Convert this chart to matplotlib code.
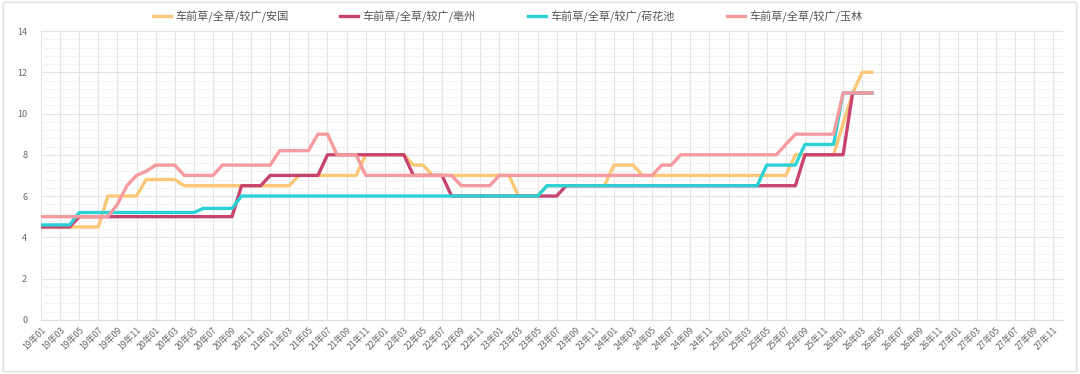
import numpy as np
import matplotlib
matplotlib.use('Agg')
import matplotlib.pyplot as plt
from matplotlib.patches import FancyBboxPatch

plt.rcParams['font.family'] = ['Noto Sans CJK SC', 'DejaVu Sans']

# 19年01 .. 27年12
months = [f"{y:02d}年{m:02d}" for y in range(19, 28) for m in range(1, 13)]

names = ['车前草/全草/较广/安国', '车前草/全草/较广/亳州',
         '车前草/全草/较广/荷花池', '车前草/全草/较广/玉林']
colors = ['#fbc878', '#c9436f', '#2bd1d4', '#f59a9e']

# monthly prices, 19年01 .. 26年04
anguo = [4.5] * 7 + [6.0] * 4 + [6.8] * 4 + [6.5] * 12 + [7.0] * 7 + [8.0] * 5 \
    + [7.5] * 2 + [7.0] * 9 + [6.0] * 3 + [6.5] * 7 + [7.5] * 3 + [7.0] * 16 \
    + [8.0] * 5 + [9.5, 11.0, 12.0, 12.0]
bozhou = [4.5] * 4 + [5.0] * 17 + [6.5] * 3 + [7.0] * 6 + [8.0] * 9 + [7.0] * 4 \
    + [6.0] * 12 + [6.5] * 25 + [8.0] * 5 + [11.0] * 3
hehuachi = [4.6] * 4 + [5.2] * 13 + [5.4] * 4 + [6.0] * 32 + [6.5] * 23 \
    + [7.5] * 4 + [8.5] * 4 + [11.0] * 4
yulin = [5.0] * 8 + [5.6, 6.5, 7.0, 7.2] + [7.5] * 3 + [7.0] * 4 + [7.5] * 6 \
    + [8.2] * 4 + [9.0] * 2 + [8.0] * 3 + [7.0] * 10 + [6.5] * 4 + [7.0] * 17 \
    + [7.5] * 2 + [8.0] * 11 + [8.5] + [9.0] * 5 + [11.0] * 4
series = [anguo, bozhou, hehuachi, yulin]

fig = plt.figure(figsize=(10.8, 3.74), dpi=100)
fig.patches.append(FancyBboxPatch((0.003, 0.006), 0.994, 0.988,
                                  boxstyle='round,pad=0,rounding_size=0.004',
                                  transform=fig.transFigure, fc='white',
                                  ec='#e3e3e3', lw=1.2, zorder=-5))
ax = fig.add_axes([0.038, 0.145, 0.946, 0.772])
ax.set_facecolor('none')

x = np.arange(len(months))
for vals, name, c in zip(series, names, colors):
    ax.plot(x[:len(vals)], vals, color=c, lw=2.4, label=name,
            solid_joinstyle='round', zorder=3)

ax.set_xlim(0, len(months) - 1)
ax.set_ylim(0, 14)
ax.set_yticks(np.arange(0, 15, 2))
ax.set_yticks(np.arange(0, 14.01, 0.4), minor=True)
ax.set_xticks(x[::2])
ax.set_xticklabels(months[::2], rotation=45, ha='right', va='top',
                   rotation_mode='anchor', fontsize=6.3, color='#666666')
ax.tick_params(axis='x', length=0, pad=4)
ax.tick_params(axis='y', which='both', length=0, labelsize=6.5,
               labelcolor='#666666', pad=10)
ax.grid(True, which='major', color='#e4e4e4', lw=0.8)
ax.grid(True, which='minor', axis='y', color='#f3f3f3', lw=0.7)
ax.set_axisbelow(True)
for s in ['top', 'right', 'left']:
    ax.spines[s].set_visible(False)
ax.spines['bottom'].set_color('#dddddd')
ax.axvline(len(months) - 1, color='#e4e4e4', lw=0.8, zorder=0)

fig.legend(loc='center', bbox_to_anchor=(0.47, 0.955), ncol=4, frameon=False,
           fontsize=8, handlelength=1.6, handletextpad=0.4, columnspacing=4.7,
           labelcolor='#555555')

fig.savefig('out.png', dpi=100)
